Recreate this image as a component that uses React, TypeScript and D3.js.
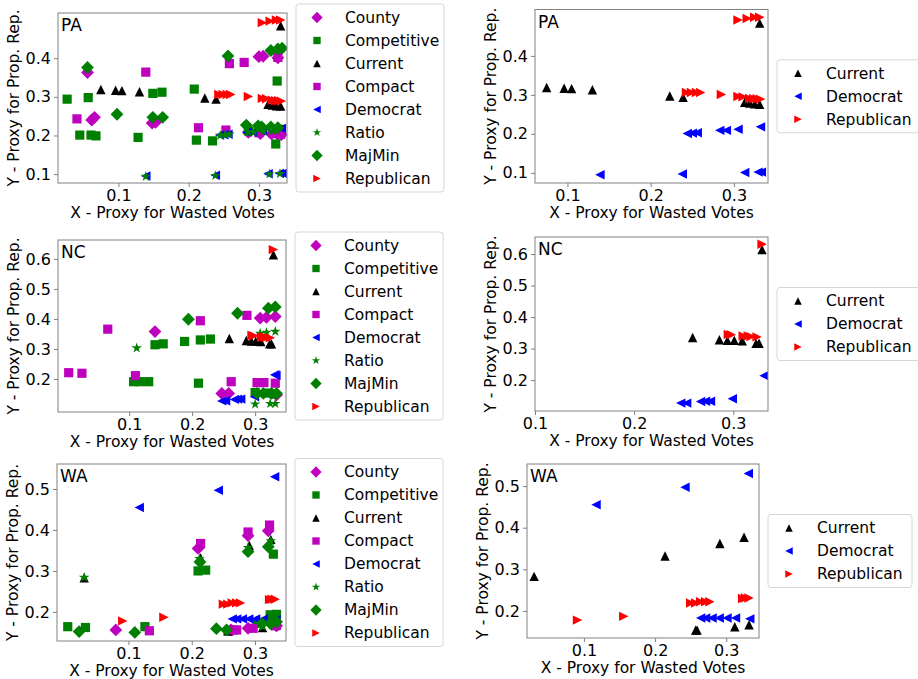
import React, { useEffect, useRef } from 'react';
import * as d3 from 'd3';

type Pt = [number, number];

// Pennsylvania
const paCounty: Pt[] = [[0.056, 0.363], [0.062, 0.240], [0.066, 0.247], [0.148, 0.232], [0.153, 0.234], [0.300, 0.404], [0.306, 0.405], [0.327, 0.401], [0.285, 0.208], [0.302, 0.205], [0.318, 0.204], [0.327, 0.203], [0.332, 0.202]];
const paCompetitive: Pt[] = [[0.027, 0.294], [0.045, 0.201], [0.057, 0.298], [0.061, 0.201], [0.068, 0.199], [0.128, 0.195], [0.149, 0.309], [0.162, 0.312], [0.208, 0.320], [0.211, 0.188], [0.234, 0.186], [0.326, 0.341], [0.324, 0.178], [0.285, 0.212], [0.305, 0.214], [0.330, 0.216]];
const paCurrent: Pt[] = [[0.075, 0.319], [0.096, 0.317], [0.105, 0.316], [0.130, 0.313], [0.223, 0.297], [0.239, 0.294], [0.313, 0.281], [0.319, 0.279], [0.325, 0.277], [0.331, 0.276], [0.331, 0.484]];
const paCompact: Pt[] = [[0.041, 0.243], [0.139, 0.364], [0.214, 0.220], [0.253, 0.214], [0.258, 0.386], [0.279, 0.389], [0.327, 0.402], [0.300, 0.207], [0.320, 0.205], [0.331, 0.203]];
const paDemocrat: Pt[] = [[0.139, 0.095], [0.238, 0.097], [0.313, 0.101], [0.329, 0.102], [0.333, 0.102], [0.244, 0.201], [0.250, 0.202], [0.256, 0.203], [0.283, 0.209], [0.291, 0.209], [0.305, 0.212], [0.332, 0.218]];
const paRatio: Pt[] = [[0.139, 0.094], [0.238, 0.096], [0.315, 0.100], [0.330, 0.101], [0.245, 0.200], [0.252, 0.202], [0.258, 0.203], [0.285, 0.208], [0.293, 0.209], [0.307, 0.211], [0.320, 0.212]];
const paMajMin: Pt[] = [[0.056, 0.376], [0.098, 0.255], [0.149, 0.247], [0.163, 0.247], [0.256, 0.406], [0.282, 0.227], [0.299, 0.225], [0.304, 0.222], [0.317, 0.222], [0.327, 0.220], [0.317, 0.420], [0.327, 0.424], [0.333, 0.426]];
const paRepublican: Pt[] = [[0.243, 0.306], [0.249, 0.306], [0.255, 0.306], [0.260, 0.306], [0.285, 0.301], [0.305, 0.296], [0.311, 0.295], [0.319, 0.291], [0.324, 0.290], [0.328, 0.290], [0.332, 0.289], [0.305, 0.492], [0.316, 0.496], [0.325, 0.499], [0.331, 0.499]];

// North Carolina
const ncCounty: Pt[] = [[0.141, 0.358], [0.247, 0.152], [0.258, 0.152], [0.308, 0.403], [0.318, 0.405], [0.332, 0.408], [0.334, 0.147]];
const ncCompetitive: Pt[] = [[0.107, 0.191], [0.117, 0.191], [0.131, 0.191], [0.141, 0.314], [0.154, 0.317], [0.188, 0.325], [0.210, 0.186], [0.213, 0.330], [0.229, 0.333], [0.300, 0.155], [0.318, 0.153], [0.330, 0.150]];
const ncCurrent: Pt[] = [[0.259, 0.335], [0.286, 0.328], [0.294, 0.326], [0.301, 0.326], [0.309, 0.325], [0.323, 0.317], [0.326, 0.317], [0.329, 0.614]];
const ncCompact: Pt[] = [[0.004, 0.221], [0.025, 0.219], [0.066, 0.366], [0.110, 0.211], [0.213, 0.394], [0.262, 0.191], [0.287, 0.412], [0.303, 0.188], [0.314, 0.188], [0.332, 0.186]];
const ncDemocrat: Pt[] = [[0.247, 0.127], [0.253, 0.127], [0.267, 0.132], [0.272, 0.133], [0.277, 0.133], [0.299, 0.141], [0.331, 0.214], [0.333, 0.212]];
const ncRatio: Pt[] = [[0.112, 0.303], [0.300, 0.116], [0.324, 0.118], [0.332, 0.118], [0.308, 0.352], [0.318, 0.355], [0.332, 0.358]];
const ncMajMin: Pt[] = [[0.194, 0.399], [0.272, 0.419], [0.321, 0.436], [0.332, 0.440], [0.303, 0.152], [0.313, 0.152], [0.326, 0.152], [0.334, 0.152]];
const ncRepublican: Pt[] = [[0.295, 0.345], [0.298, 0.344], [0.310, 0.340], [0.315, 0.340], [0.318, 0.338], [0.324, 0.337], [0.329, 0.631]];

// Washington
const waCounty: Pt[] = [[0.080, 0.156], [0.210, 0.355], [0.289, 0.386], [0.321, 0.398], [0.289, 0.160], [0.334, 0.166], [0.262, 0.156]];
const waCompetitive: Pt[] = [[0.004, 0.164], [0.032, 0.162], [0.126, 0.164], [0.210, 0.300], [0.222, 0.302], [0.329, 0.341], [0.324, 0.193], [0.334, 0.194], [0.303, 0.172]];
const waCurrent: Pt[] = [[0.030, 0.283], [0.214, 0.332], [0.291, 0.362], [0.325, 0.377], [0.257, 0.154], [0.259, 0.154], [0.312, 0.162], [0.332, 0.167]];
const waCompact: Pt[] = [[0.133, 0.154], [0.214, 0.367], [0.289, 0.395], [0.323, 0.412], [0.266, 0.156], [0.271, 0.156], [0.297, 0.160], [0.334, 0.167]];
const waDemocrat: Pt[] = [[0.117, 0.455], [0.242, 0.497], [0.331, 0.530], [0.264, 0.183], [0.271, 0.183], [0.280, 0.183], [0.290, 0.183], [0.301, 0.183], [0.313, 0.183], [0.333, 0.181]];
const waRatio: Pt[] = [[0.030, 0.284], [0.212, 0.330], [0.289, 0.357], [0.325, 0.373], [0.255, 0.156], [0.312, 0.164], [0.332, 0.170]];
const waMajMin: Pt[] = [[0.022, 0.152], [0.110, 0.150], [0.239, 0.159], [0.255, 0.156], [0.289, 0.347], [0.321, 0.359], [0.311, 0.172], [0.324, 0.172], [0.334, 0.176], [0.213, 0.322]];
const waRepublican: Pt[] = [[0.091, 0.178], [0.156, 0.187], [0.250, 0.219], [0.257, 0.219], [0.264, 0.222], [0.271, 0.222], [0.277, 0.222], [0.323, 0.230], [0.327, 0.231], [0.332, 0.231]];

const allSeries = ['County', 'Competitive', 'Current', 'Compact', 'Democrat', 'Ratio', 'MajMin', 'Republican'];
const partySeries = ['Current', 'Democrat', 'Republican'];
const xTicks = [0.1, 0.2, 0.3];
const paYTicks = [0.1, 0.2, 0.3, 0.4];
const ncYTicks = [0.2, 0.3, 0.4, 0.5, 0.6];
const waYTicks = [0.2, 0.3, 0.4, 0.5];

const stateData: Record<string, Record<string, Pt[]>> = {
  PA: { County: paCounty, Competitive: paCompetitive, Current: paCurrent, Compact: paCompact, Democrat: paDemocrat, Ratio: paRatio, MajMin: paMajMin, Republican: paRepublican },
  NC: { County: ncCounty, Competitive: ncCompetitive, Current: ncCurrent, Compact: ncCompact, Democrat: ncDemocrat, Ratio: ncRatio, MajMin: ncMajMin, Republican: ncRepublican },
  WA: { County: waCounty, Competitive: waCompetitive, Current: waCurrent, Compact: waCompact, Democrat: waDemocrat, Ratio: waRatio, MajMin: waMajMin, Republican: waRepublican },
};

const styles: Record<string, { color: string; shape: string }> = {
  County: { color: '#bf00bf', shape: 'diamond' },
  Competitive: { color: '#008000', shape: 'square' },
  Current: { color: '#000000', shape: 'up' },
  Compact: { color: '#bf00bf', shape: 'square' },
  Democrat: { color: '#0000ff', shape: 'left' },
  Ratio: { color: '#008000', shape: 'star' },
  MajMin: { color: '#008000', shape: 'diamond' },
  Republican: { color: '#ff0000', shape: 'right' },
};

const panels = [
  { state: 'PA', names: allSeries, box: [58, 13, 287, 183], xDom: [0.014, 0.340], yDom: [0.077, 0.517], yTicks: paYTicks, legW: 148 },
  { state: 'PA', names: partySeries, box: [535, 9.5, 768, 183], xDom: [0.061, 0.341], yDom: [0.074, 0.519], yTicks: paYTicks, legW: 144 },
  { state: 'NC', names: allSeries, box: [58, 240, 286, 412], xDom: [-0.013, 0.349], yDom: [0.09, 0.663], yTicks: ncYTicks, legW: 148 },
  { state: 'NC', names: partySeries, box: [535, 237, 768, 411], xDom: [0.1, 0.335], yDom: [0.102, 0.654], yTicks: ncYTicks, legW: 144 },
  { state: 'WA', names: allSeries, box: [57, 464, 286, 641], xDom: [-0.013, 0.349], yDom: [0.129, 0.561], yTicks: waYTicks, legW: 148 },
  { state: 'WA', names: partySeries, box: [527, 464, 759, 638], xDom: [0.02, 0.346], yDom: [0.135, 0.553], yTicks: waYTicks, legW: 144 },
];

const FONT = 'DejaVu Sans, sans-serif';

function markerPath(shape: string, k: number) {
  switch (shape) {
    case 'square': { const h = 4.6 * k; return `M${-h},${-h}H${h}V${h}H${-h}Z`; }
    case 'diamond': { const h = 6.4 * k; return `M0,${-h}L${h},0L0,${h}L${-h},0Z`; }
    case 'up': { const r = 4.7 * k; return `M0,${-r}L${r},${r}L${-r},${r}Z`; }
    case 'left': { const r = 4.7 * k; return `M${-r},0L${r},${-r}L${r},${r}Z`; }
    case 'right': { const r = 4.7 * k; return `M${r},0L${-r},${-r}L${-r},${r}Z`; }
    default: return d3.symbol(d3.symbolStar, 34 * k * k)() || '';
  }
}

const App: React.FC = () => {
  const svgRef = useRef<SVGSVGElement>(null);

  useEffect(() => {
    if (!svgRef.current) return;
    const svg = d3.select(svgRef.current);
    svg.selectAll('*').remove();

    panels.forEach((p, i) => {
      const [x0, y0, x1, y1] = p.box;
      const xScale = d3.scaleLinear().domain(p.xDom).range([x0, x1]);
      const yScale = d3.scaleLinear().domain(p.yDom).range([y1, y0]);
      const g = svg.append('g');

      const clipId = `clip${i}`;
      g.append('clipPath').attr('id', clipId)
        .append('rect').attr('x', x0).attr('y', y0).attr('width', x1 - x0).attr('height', y1 - y0);

      // Points, drawn series by series so later ones sit on top
      const pts = g.append('g').attr('clip-path', `url(#${clipId})`);
      p.names.forEach(name => {
        const st = styles[name];
        pts.selectAll(null)
          .data(stateData[p.state][name])
          .enter()
          .append('path')
          .attr('d', markerPath(st.shape, 1))
          .attr('transform', d => `translate(${xScale(d[0])},${yScale(d[1])})`)
          .attr('fill', st.color);
      });

      // Frame
      g.append('rect')
        .attr('x', x0).attr('y', y0).attr('width', x1 - x0).attr('height', y1 - y0)
        .attr('fill', 'none').attr('stroke', '#808080').attr('stroke-width', 1);

      const xAxis = g.append('g').attr('transform', `translate(0,${y1})`)
        .call(d3.axisBottom(xScale).tickValues(xTicks).tickSize(4).tickPadding(3).tickFormat(d3.format('.1f')));
      xAxis.select('.domain').remove();
      xAxis.selectAll('line').attr('stroke', '#808080');
      xAxis.selectAll('text').attr('font-size', 16).attr('font-family', FONT).attr('fill', '#000');

      const yAxis = g.append('g').attr('transform', `translate(${x0},0)`)
        .call(d3.axisLeft(yScale).tickValues(p.yTicks).tickSize(4).tickPadding(3).tickFormat(d3.format('.1f')));
      yAxis.select('.domain').remove();
      yAxis.selectAll('line').attr('stroke', '#808080');
      yAxis.selectAll('text').attr('font-size', 16).attr('font-family', FONT).attr('fill', '#000');

      // Axis titles
      g.append('text')
        .attr('x', (x0 + x1) / 2).attr('y', y1 + 35)
        .attr('text-anchor', 'middle').attr('font-size', 15.5).attr('font-family', FONT)
        .text('X - Proxy for Wasted Votes');
      g.append('text')
        .attr('transform', `translate(${x0 - 39},${(y0 + y1) / 2}) rotate(-90)`)
        .attr('text-anchor', 'middle').attr('font-size', 15.5).attr('font-family', FONT)
        .text('Y - Proxy for Prop. Rep.');

      // State label
      g.append('text')
        .attr('x', x0 + 3).attr('y', y0 + 18)
        .attr('font-size', 17).attr('font-family', FONT)
        .text(p.state);

      // Legend, centred on the axes' right side
      const n = p.names.length;
      const lx = x1 + 9;
      const cy = (y0 + y1) / 2;
      const lh = (n - 1) * 23 + 27;
      const leg = svg.append('g');
      leg.append('rect')
        .attr('x', lx).attr('y', cy - lh / 2).attr('width', p.legW).attr('height', lh)
        .attr('rx', 3).attr('fill', '#fff').attr('fill-opacity', 0.8)
        .attr('stroke', '#d6d6d6').attr('stroke-width', 1);
      p.names.forEach((name, j) => {
        const st = styles[name];
        const ry = cy + (j - (n - 1) / 2) * 23;
        leg.append('path')
          .attr('d', markerPath(st.shape, st.shape === 'diamond' ? 0.88 : 0.8))
          .attr('transform', `translate(${lx + 21},${ry})`)
          .attr('fill', st.color);
        leg.append('text')
          .attr('x', lx + 49).attr('y', ry).attr('dy', '0.35em')
          .attr('font-size', 15.5).attr('font-family', FONT)
          .text(name);
      });
    });
  }, []);

  return (
    <svg
      ref={svgRef}
      width={918}
      height={679}
      style={{ position: 'absolute', left: 0, top: 0, background: '#fff' }}
    />
  );
};

export default App;
